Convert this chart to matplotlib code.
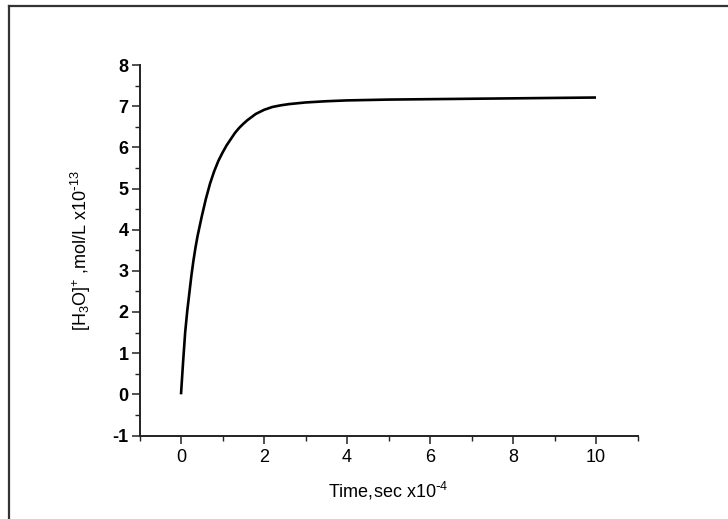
import matplotlib

matplotlib.use("Agg")
import matplotlib.pyplot as plt
from matplotlib.lines import Line2D
from matplotlib.ticker import MultipleLocator

# values
time_1e4 = [0, 0.05, 0.1, 0.15, 0.2, 0.25, 0.3, 0.35, 0.4, 0.5, 0.6, 0.7, 0.8,
            0.9, 1.0, 1.1, 1.2, 1.3, 1.4, 1.5, 1.6, 1.8, 2.0, 2.2, 2.4, 2.6,
            3.0, 3.5, 4.0, 5.0, 6.0, 7.0, 8.0, 9.0, 10.0]
h3o_1e13 = [0.0, 0.78, 1.5, 2.02, 2.45, 2.88, 3.25, 3.57, 3.85, 4.32, 4.75,
            5.12, 5.42, 5.67, 5.87, 6.05, 6.2, 6.35, 6.47, 6.57, 6.66, 6.81,
            6.91, 6.98, 7.02, 7.05, 7.09, 7.12, 7.14, 7.16, 7.17, 7.18, 7.19,
            7.2, 7.21]

plt.rcParams.update(
    {
        "font.family": ["Liberation Sans", "DejaVu Sans"],
        "mathtext.default": "regular",
        "axes.unicode_minus": False,
        "font.size": 12,
    }
)

W, H = 728, 519
fig = plt.figure(figsize=(W / 100, H / 100), dpi=100)
ax = fig.add_axes([139.5 / W, 1 - 435.5 / H, 498 / W, 370.5 / H])

ax.plot(time_1e4, h3o_1e13, color="black", lw=1.9, solid_capstyle="butt")

ax.set_xlim(-1, 11)
ax.set_ylim(-1, 8)
ax.xaxis.set_major_locator(MultipleLocator(2))
ax.xaxis.set_minor_locator(MultipleLocator(1))
ax.yaxis.set_major_locator(MultipleLocator(1))
ax.yaxis.set_minor_locator(MultipleLocator(0.5))

for side in ("top", "right"):
    ax.spines[side].set_visible(False)
for side in ("left", "bottom"):
    ax.spines[side].set_linewidth(1.4)
    ax.spines[side].set_color("#222222")

ax.tick_params(which="major", direction="out", length=6, width=1.1, color="#222222")
ax.tick_params(which="minor", direction="out", length=3.5, width=1.0, color="#222222")
ax.tick_params(axis="x", which="major", pad=4, labelsize=13)
ax.tick_params(axis="y", which="major", pad=2, labelsize=13)
for lbl in ax.get_yticklabels():
    lbl.set_fontweight("bold")

ax.set_xlabel(r"Time,sec x10$^{\text{-}4}$", fontsize=13, labelpad=10)
ax.set_ylabel(r"[H$_3$O]$^{+}$ ,mol/L x10$^{\text{-}13}$", fontsize=13, labelpad=14)

# outer frame (left and top edges visible in the crop)
frame_kw = dict(transform=fig.transFigure, color="#333333", lw=1.6)
fig.add_artist(Line2D([8.5 / W, 8.5 / W], [0, 1 - 6 / H], **frame_kw))
fig.add_artist(Line2D([8.5 / W, 1], [1 - 6 / H, 1 - 6 / H], **frame_kw))

fig.savefig("out.png", dpi=100)
